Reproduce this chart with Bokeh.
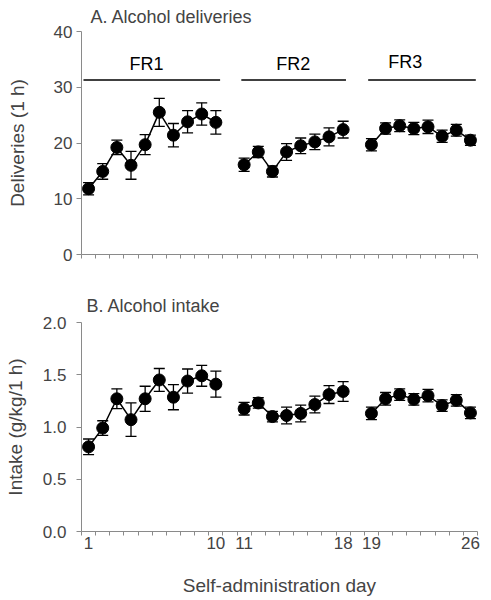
from bokeh.plotting import figure
from bokeh.layouts import column
from bokeh.models import (ColumnDataSource, Range1d, FixedTicker, Whisker, TeeHead,
                          NumeralTickFormatter)
from bokeh.core.properties import value
from bokeh.embed import file_html
from bokeh.resources import INLINE

# ---------------- data ----------------
days = list(range(1, 27))
phase = ["FR1"] * 10 + ["FR2"] * 8 + ["FR3"] * 8
deliveries = [11.8, 14.9, 19.2, 16.0, 19.7, 25.5, 21.4, 23.8, 25.2, 23.7,
              16.1, 18.4, 14.9, 18.4, 19.5, 20.2, 21.1, 22.4,
              19.7, 22.6, 23.1, 22.6, 22.9, 21.2, 22.3, 20.5]
deliveries_sem = [1.1, 1.4, 1.3, 2.5, 1.8, 2.5, 2.1, 2.0, 2.0, 2.1,
                  1.2, 1.0, 1.0, 1.5, 1.4, 1.4, 1.6, 1.5,
                  1.1, 1.0, 1.05, 1.1, 1.2, 1.1, 1.05, 0.9]
intake = [0.81, 0.99, 1.27, 1.07, 1.27, 1.45, 1.285, 1.44, 1.49, 1.41,
          1.175, 1.23, 1.10, 1.11, 1.13, 1.215, 1.31, 1.34,
          1.13, 1.27, 1.31, 1.265, 1.30, 1.205, 1.255, 1.135]
intake_sem = [0.075, 0.07, 0.095, 0.16, 0.12, 0.11, 0.12, 0.115, 0.10, 0.125,
              0.06, 0.05, 0.05, 0.08, 0.08, 0.08, 0.085, 0.095,
              0.06, 0.06, 0.055, 0.055, 0.06, 0.055, 0.055, 0.055]
phases = ["FR1", "FR2", "FR3"]
x_tick_labels = ["1", "10", "11", "18", "19", "26"]

FONT = "Liberation Sans"
AXIS_GRAY = "#8a8a8a"

# slot positions on the x axis: one empty slot between phases
pos = [d + phases.index(ph) for d, ph in zip(days, phase)]
label_days = [int(s) for s in x_tick_labels]
label_pos = [pos[days.index(d)] for d in label_days]
slot_ticks = [i + 0.5 for i in range(0, 29)]


def make_fig(title, ylab, yrange, yticks, height, border_top, border_bottom,
             title_offset, title_standoff, ylab_standoff, tick_standoff, show_xlabels):
    p = figure(width=483, height=height, output_backend="svg", toolbar_location=None,
               x_range=Range1d(0.5, 28.5), y_range=Range1d(*yrange),
               min_border_left=81, min_border_right=6,
               min_border_top=border_top, min_border_bottom=border_bottom,
               title=title)
    p.outline_line_color = None
    p.grid.visible = False
    p.background_fill_color = "white"
    p.title.text_font = FONT
    p.title.text_font_size = "18px"
    p.title.text_font_style = "normal"
    p.title.align = "left"
    p.title.offset = title_offset
    p.title.standoff = title_standoff

    ya = p.yaxis[0]
    ya.ticker = FixedTicker(ticks=yticks, minor_ticks=[])
    ya.axis_label = ylab
    ya.axis_label_text_font = FONT
    ya.axis_label_text_font_size = "19px"
    ya.axis_label_text_font_style = "normal"
    ya.axis_label_standoff = ylab_standoff
    ya.major_label_text_font = FONT
    ya.major_label_text_font_size = "17px"
    ya.major_label_standoff = tick_standoff
    ya.major_tick_in = 0
    ya.major_tick_out = 5
    ya.axis_line_color = AXIS_GRAY
    ya.major_tick_line_color = AXIS_GRAY

    xa = p.xaxis[0]
    xa.axis_line_color = AXIS_GRAY
    xa.minor_tick_line_color = AXIS_GRAY
    xa.major_tick_line_color = AXIS_GRAY
    xa.minor_tick_in = 0
    xa.minor_tick_out = 4
    xa.major_tick_in = 0
    xa.major_tick_out = 0
    if show_xlabels:
        xa.ticker = FixedTicker(ticks=label_pos, minor_ticks=slot_ticks)
        xa.major_label_overrides = {pp: s for pp, s in zip(label_pos, x_tick_labels)}
        xa.major_label_text_font = FONT
        xa.major_label_text_font_size = "17px"
        xa.major_label_standoff = 1
        xa.axis_label = "Self-administration day"
        xa.axis_label_text_font = FONT
        xa.axis_label_text_font_size = "19px"
        xa.axis_label_text_font_style = "normal"
        xa.axis_label_standoff = 23
    else:
        xa.ticker = FixedTicker(ticks=[], minor_ticks=slot_ticks)
        xa.major_label_text_font_size = "0px"
    return p


def draw_series(p, means, sems):
    src = ColumnDataSource(dict(
        x=pos, y=means,
        upper=[m + s for m, s in zip(means, sems)],
        lower=[m - s for m, s in zip(means, sems)]))
    w = Whisker(base="x", upper="upper", lower="lower", source=src,
                line_color="black", line_width=1.3,
                upper_head=TeeHead(size=11, line_color="black", line_width=1.3),
                lower_head=TeeHead(size=11, line_color="black", line_width=1.3))
    w.level = "underlay"
    p.add_layout(w)
    for ph in phases:
        idx = [i for i, q in enumerate(phase) if q == ph]
        p.line([pos[i] for i in idx], [means[i] for i in idx],
               line_color="black", line_width=1.5)
    p.scatter("x", "y", source=src, size=12, fill_color="black", line_color="black")


# ---------------- panel A ----------------
pA = make_fig("A. Alcohol deliveries", "Deliveries (1 h)", (0, 40), [0, 10, 20, 30, 40],
              height=278, border_top=31, border_bottom=24, title_offset=9,
              title_standoff=9, ylab_standoff=23, tick_standoff=4, show_xlabels=False)
draw_series(pA, deliveries, deliveries_sem)

fr_x0 = [0.64, 11.8, 20.77]
fr_x1 = [10.3, 19.2, 28.38]
fr_line_y = [31.3, 31.3, 31.3]
fr_text_x = [5.1, 15.48, 23.4]
fr_text_y = [34.1, 34.1, 34.6]
pA.segment(x0=fr_x0, y0=fr_line_y, x1=fr_x1, y1=fr_line_y, line_color="black", line_width=1.5)
pA.text(x=fr_text_x, y=fr_text_y, text=phases, text_font=value(FONT),
        text_font_size="18px", text_align="center", text_baseline="middle",
        text_color="black")

# ---------------- panel B ----------------
pB = make_fig("B. Alcohol intake", "Intake (g/kg/1 h)", (0, 2), [0, 0.5, 1.0, 1.5, 2.0],
              height=320, border_top=44, border_bottom=66, title_offset=5,
              title_standoff=14, ylab_standoff=14, tick_standoff=10, show_xlabels=True)
pB.yaxis[0].formatter = NumeralTickFormatter(format="0.0")
draw_series(pB, intake, intake_sem)

layout = column(pA, pB, spacing=0)
open("out.html", "w").write(file_html(layout, INLINE))
